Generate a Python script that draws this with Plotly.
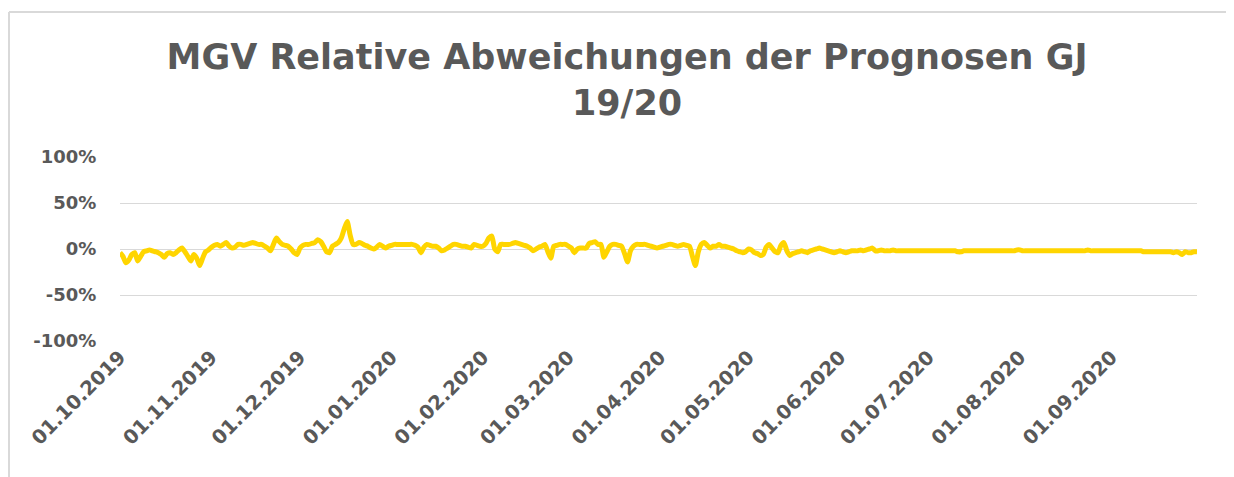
import pandas as pd
import plotly.graph_objects as go

# Relative deviation in percent, one value per day, grouped by month
oct_2019 = [-4, -8, -15, -12, -6, -4, -13, -8, -3, -2, -1, -2, -3, -4, -6, -9, -5, -4, -6, -4, -1, 1, -3, -8, -13, -6, -10, -18, -10, -3, -1]
nov_2019 = [2, 4, 5, 3, 5, 7, 3, 1, 2, 5, 5, 4, 5, 6, 7, 6, 5, 5, 3, 1, -2, 5, 12, 8, 5, 4, 3, 0, -4, -6]
dec_2019 = [1, 4, 5, 5, 6, 7, 10, 8, 3, -3, -4, 3, 5, 7, 12, 22, 30, 15, 5, 5, 7, 6, 4, 3, 1, 0, 2, 5, 3, 1, 3]
jan_2020 = [4, 5, 5, 5, 5, 5, 5, 5, 4, 2, -4, 2, 5, 4, 3, 3, 1, -2, -1, 1, 3, 5, 5, 4, 3, 3, 2, 1, 5, 4, 3]
feb_2020 = [3, 6, 12, 14, 0, -3, 5, 5, 5, 5, 6, 7, 6, 5, 4, 3, 1, -2, 0, 2, 3, 5, -3, -10, 3, 4, 5, 5, 5]
mar_2020 = [3, 1, -4, 0, 1, 1, 1, 6, 7, 8, 5, 5, -9, -3, 3, 5, 5, 4, 3, -5, -14, -2, 3, 5, 5, 5, 5, 4, 3, 2, 1]
apr_2020 = [2, 3, 4, 5, 5, 4, 3, 4, 5, 4, 3, -8, -18, -3, 5, 7, 4, 1, 3, 3, 5, 3, 3, 2, 1, 0, -2, -3, -4, -3]
may_2020 = [0, -1, -4, -5, -7, -6, 2, 5, 1, -3, -4, 4, 7, -2, -7, -5, -4, -3, -2, -3, -4, -2, -1, 0, 1, 0, -1, -2, -3, -4, -3]
jun_2020 = [-2, -3, -4, -3, -2, -2, -2, -1, -2, -1, 0, 1, -2, -2, -1, -2, -2, -2, -1, -2, -2, -2, -2, -2, -2, -2, -2, -2, -2, -2]
jul_2020 = [-2, -2, -2, -2, -2, -2, -2, -2, -2, -2, -3, -3, -2, -2, -2, -2, -2, -2, -2, -2, -2, -2, -2, -2, -2, -2, -2, -2, -2, -2, -1]
aug_2020 = [-1, -2, -2, -2, -2, -2, -2, -2, -2, -2, -2, -2, -2, -2, -2, -2, -2, -2, -2, -2, -2, -2, -2, -1, -2, -2, -2, -2, -2, -2, -2]
sep_2020 = [-2, -2, -2, -2, -2, -2, -2, -2, -2, -2, -2, -3, -3, -3, -3, -3, -3, -3, -3, -3, -3, -4, -3, -4, -6, -3, -4, -4, -3, -3]

values = (oct_2019 + nov_2019 + dec_2019 + jan_2020 + feb_2020 + mar_2020
          + apr_2020 + may_2020 + jun_2020 + jul_2020 + aug_2020 + sep_2020)
dates = pd.date_range("2019-10-01", periods=len(values), freq="D")

y_ticks = [-100, -50, 0, 50, 100]
y_labels = ["-100%", "-50%", "0%", "50%", "100%"]

TXT = "#595959"
GRID = "#d9d9d9"
FONT = "DejaVu Sans"

fig = go.Figure()
fig.add_trace(go.Scatter(
    x=dates, y=values, mode="lines",
    line=dict(color="#FFD500", width=5, shape="spline", smoothing=0.6),
    hoverinfo="x+y", showlegend=False, xaxis="x2",
))

# page is offset by the 8px body margin
W, H = 1226, 469
L, R, T, B = 112, 37, 149, 136
pw, ph = W - L - R, H - T - B

fx0 = (1 - L) / pw
fx1 = (W + 40 - L) / pw
fy_top = (H - B - 4) / ph
fy_bot = (H - B - (H + 40)) / ph

fig.update_layout(
    width=W, height=H,
    margin=dict(l=L, r=R, t=T, b=B, autoexpand=False),
    paper_bgcolor="white", plot_bgcolor="white",
    title=dict(
        text="MGV Relative Abweichungen der Prognosen GJ<br>19/20",
        x=619 / W, xanchor="center", xref="container",
        y=1 - 61 / H, yanchor="top", yref="container", automargin=False,
        font=dict(family=FONT, size=35, color=TXT, weight="bold"),
    ),
    xaxis=dict(
        type="date", range=["2019-10-01", "2020-09-30"],
        anchor="free", position=0.5, overlaying="x2", matches="x2",
        showgrid=False, showline=True, linecolor=GRID, linewidth=1,
        ticks="outside", ticklen=6, tickcolor=GRID, tickwidth=1,
        tick0="2019-10-01", dtick="M1", showticklabels=False,
        layer="below traces", zeroline=False, automargin=False,
    ),
    xaxis2=dict(
        type="date", range=["2019-10-01", "2020-09-30"],
        anchor="y", side="bottom",
        showgrid=False, showline=False, ticks="",
        tick0="2019-10-01", dtick="M1", tickformat="%d.%m.%Y",
        tickangle=-45, tickfont=dict(family=FONT, size=19.5, color=TXT, weight="bold"),
        zeroline=False, automargin=False,
    ),
    yaxis=dict(
        range=[-100, 100], tickvals=y_ticks, ticktext=y_labels,
        showgrid=True, gridcolor=GRID, gridwidth=1, zeroline=False,
        showline=False, ticks="outside", ticklen=19, tickcolor="rgba(0,0,0,0)",
        tickfont=dict(family=FONT, size=18, color=TXT, weight="bold"),
        layer="below traces", automargin=False,
    ),
    shapes=[
        dict(type="line", xref="paper", yref="paper",
             x0=fx0, x1=fx1, y0=fy_top, y1=fy_top,
             line=dict(color=GRID, width=2), layer="below"),
        dict(type="line", xref="paper", yref="paper",
             x0=fx0, x1=fx0, y0=fy_top, y1=fy_bot,
             line=dict(color=GRID, width=2), layer="below"),
    ],
)

fig.write_html("out.html")
